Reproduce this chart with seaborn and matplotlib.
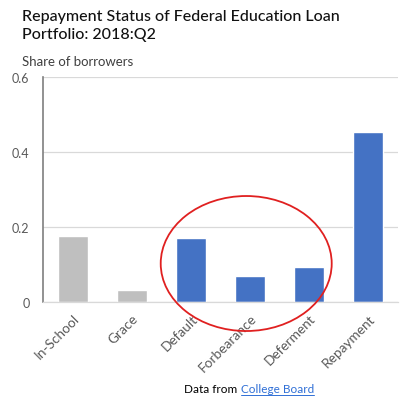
import matplotlib
matplotlib.use("Agg")
import matplotlib.pyplot as plt
import seaborn as sns
import pandas as pd
from matplotlib.patches import Ellipse

categories = ["In-School", "Grace", "Default", "Forbearance", "Deferment", "Repayment"]
shares = [0.176, 0.031, 0.171, 0.069, 0.093, 0.453]
groups = ["other", "other", "focus", "focus", "focus", "focus"]
yticks = [0, 0.2, 0.4, 0.6]
ytick_labels = ["0", "0.2", "0.4", "0.6"]

sns.set_theme(style="white")
plt.rcParams["font.family"] = ["Lato", "DejaVu Sans"]

df = pd.DataFrame({"category": categories, "share": shares, "group": groups})

fig = plt.figure(figsize=(4.01, 4.02), dpi=100)
ax = fig.add_axes([0.108, 0.246, 0.884, 0.56])

sns.barplot(data=df, x="category", y="share", hue="group",
            palette={"other": "#BFBFBF", "focus": "#4472C4"},
            dodge=False, width=0.51, legend=False, ax=ax, saturation=1)

ax.set_ylim(0, 0.6)
ax.set_xlim(-0.5, len(categories) - 0.5)
ax.set_yticks(yticks)
ax.set_yticklabels(ytick_labels, color="#595959", fontsize=9)
ax.set_xlabel("")
ax.set_ylabel("")
ax.grid(axis="y", color="#D9D9D9", linewidth=0.9)
ax.set_axisbelow(True)
for s in ["top", "right"]:
    ax.spines[s].set_visible(False)
ax.spines["left"].set_color("#7F7F7F")
ax.spines["left"].set_linewidth(1.2)
ax.spines["bottom"].set_color("#D9D9D9")
ax.spines["bottom"].set_linewidth(0.9)
ax.tick_params(axis="y", length=3, color="#7F7F7F", direction="in", pad=10)
ax.tick_params(axis="x", length=0, pad=7)
plt.setp(ax.get_xticklabels(), rotation=45, ha="right", rotation_mode="anchor",
         color="#595959", fontsize=9.8)

fig.text(0.055, 0.975, "Repayment Status of Federal Education Loan\nPortfolio: 2018:Q2",
         ha="left", va="top", fontsize=11.5, color="#111111", linespacing=1.35,
         fontweight="medium")
fig.text(0.055, 0.845, "Share of borrowers", ha="left", va="center",
         fontsize=9.5, color="#404040")

ell = Ellipse((0.614, 0.342), 171 / 401, 135 / 402, transform=fig.transFigure,
              fill=False, edgecolor="#E02020", linewidth=1.3)
fig.patches.append(ell)

t1 = fig.text(0.6, 0.022, "Data from ", ha="right", va="baseline", fontsize=8.5, color="#000000")
t2 = fig.text(0.6, 0.022, "College Board", ha="left", va="baseline", fontsize=8.5,
              color="#2F6FD6")
fig.canvas.draw()
bb = t2.get_window_extent()
fig.add_artist(plt.Line2D([bb.x0 / fig.bbox.width, bb.x1 / fig.bbox.width],
                          [0.016, 0.016], transform=fig.transFigure,
                          color="#2F6FD6", linewidth=0.7))

fig.savefig("out.png", dpi=100)
